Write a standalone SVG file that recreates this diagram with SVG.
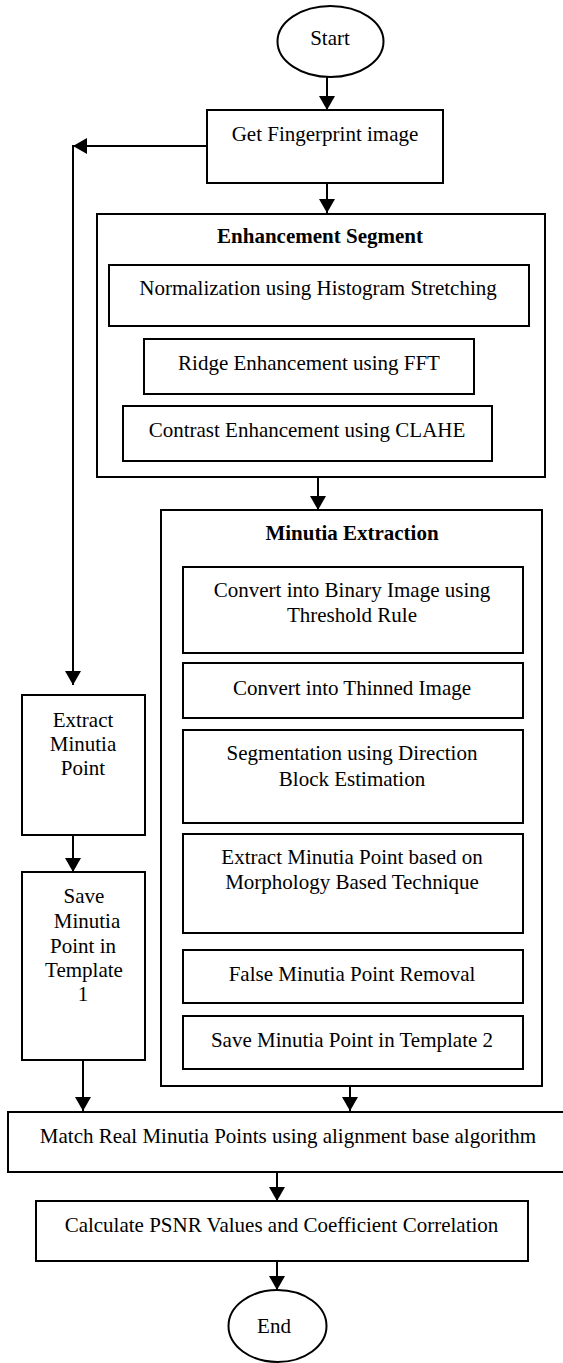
<svg xmlns="http://www.w3.org/2000/svg" width="563" height="1363" viewBox="0 0 563 1363">
<defs>
<marker id="arr" markerUnits="userSpaceOnUse" markerWidth="15" markerHeight="16" refX="14" refY="8" orient="auto">
<path d="M0,0 L14,8 L0,16 z" fill="#000"/>
</marker>
<style>
.box{fill:#fff;stroke:#000;stroke-width:2}
.t{font-family:"Liberation Serif","Times New Roman",serif;font-size:21px;fill:#000;text-anchor:middle}
.b{font-weight:bold}
.c{fill:none;stroke:#000;stroke-width:2;marker-end:url(#arr)}
</style>
</defs>
<rect width="563" height="1363" fill="#fff"/>

<g id="start">
<ellipse class="box" cx="330.5" cy="41.5" rx="53" ry="35.5"/>
<text class="t" x="330" y="45">Start</text>
</g>
<g id="get-fingerprint">
<rect class="box" x="207" y="110" width="236" height="73"/>
<text class="t" x="325" y="141">Get Fingerprint image</text>
</g>
<g id="enhancement-segment">
<rect class="box" x="97" y="214" width="448" height="263"/>
<text class="t b" x="320" y="243">Enhancement Segment</text>
</g>
<g id="normalization">
<rect class="box" x="109" y="265" width="420" height="61"/>
<text class="t" x="318" y="295">Normalization using Histogram Stretching</text>
</g>
<g id="ridge">
<rect class="box" x="144" y="339" width="330" height="55"/>
<text class="t" x="309" y="370">Ridge Enhancement using FFT</text>
</g>
<g id="contrast">
<rect class="box" x="123" y="406" width="369" height="55"/>
<text class="t" x="307" y="437">Contrast Enhancement using  CLAHE</text>
</g>
<g id="minutia-extraction">
<rect class="box" x="161" y="510" width="381" height="576"/>
<text class="t b" x="352" y="540">Minutia Extraction</text>
</g>
<g id="binary">
<rect class="box" x="183" y="567" width="340" height="86"/>
<text class="t" x="352" y="597">Convert into Binary Image using</text>
<text class="t" x="352" y="622">Threshold Rule</text>
</g>
<g id="thinned">
<rect class="box" x="183" y="663" width="340" height="55"/>
<text class="t" x="352" y="695">Convert into Thinned Image</text>
</g>
<g id="segmentation">
<rect class="box" x="183" y="730" width="340" height="93"/>
<text class="t" x="352" y="760">Segmentation using Direction</text>
<text class="t" x="352" y="786">Block Estimation</text>
</g>
<g id="extract-morph">
<rect class="box" x="183" y="834" width="340" height="99"/>
<text class="t" x="352" y="864">Extract Minutia Point based on</text>
<text class="t" x="352" y="889">Morphology Based Technique</text>
</g>
<g id="false-removal">
<rect class="box" x="183" y="950" width="340" height="53"/>
<text class="t" x="352" y="981">False Minutia Point Removal</text>
</g>
<g id="save-template2">
<rect class="box" x="183" y="1016" width="340" height="53"/>
<text class="t" x="352" y="1047">Save Minutia Point in Template 2</text>
</g>
<g id="extract-minutia">
<rect class="box" x="22" y="695" width="123" height="140"/>
<text class="t" x="83" y="727">Extract</text>
<text class="t" x="83" y="751">Minutia</text>
<text class="t" x="83" y="775">Point</text>
</g>
<g id="save-template1">
<rect class="box" x="22" y="872" width="123" height="188"/>
<text class="t" x="84" y="903">Save</text>
<text class="t" x="87" y="928">Minutia</text>
<text class="t" x="83" y="953">Point in</text>
<text class="t" x="84" y="977">Template</text>
<text class="t" x="83" y="1001">1</text>
</g>
<g id="match">
<rect class="box" x="8" y="1112" width="570" height="60"/>
<text class="t" x="288" y="1143">Match Real Minutia Points using alignment base algorithm</text>
</g>
<g id="calculate">
<rect class="box" x="36" y="1201" width="492" height="60"/>
<text class="t" x="281.5" y="1232">Calculate PSNR Values and Coefficient Correlation</text>
</g>
<g id="end">
<ellipse class="box" cx="277.5" cy="1326" rx="49" ry="36"/>
<text class="t" x="274" y="1333">End</text>
</g>

<g id="connectors">
<path class="c" d="M327,77 V110"/>
<path class="c" d="M207,146 H73"/>
<path class="c" d="M73,145 V685"/>
<path class="c" d="M327,183 V213"/>
<path class="c" d="M318,477 V510"/>
<path class="c" d="M73,835 V872"/>
<path class="c" d="M83,1060 V1111"/>
<path class="c" d="M350,1086 V1111"/>
<path class="c" d="M277,1172 V1201"/>
<path class="c" d="M277,1261 V1290"/>
</g>
</svg>
